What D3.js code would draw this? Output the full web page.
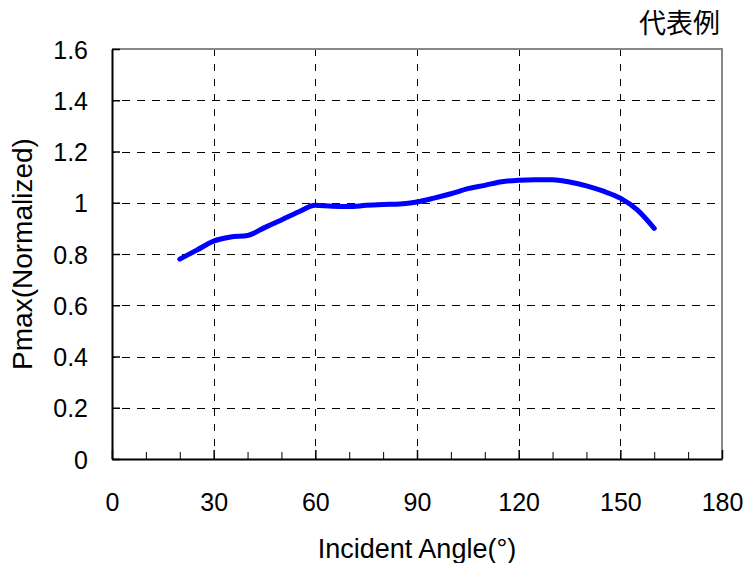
<!DOCTYPE html>
<html>
<head>
<meta charset="utf-8">
<script src="https://cdn.jsdelivr.net/npm/d3@7"></script>
<style>
  html, body { margin: 0; padding: 0; background: #fff; }
  text { font-family: "Liberation Sans", Arial, sans-serif; fill: #000; }
</style>
</head>
<body>
<svg id="chart" width="750" height="563"></svg>
<script>
// ---- data ----
const angles = [20, 25, 30, 35, 40, 45, 50, 55, 60, 65, 70, 75, 80, 85, 90, 95, 100, 105, 110, 115, 120, 125, 130, 135, 140, 145, 150, 155, 160];
const pmax   = [0.78, 0.815, 0.85, 0.866, 0.872, 0.903, 0.933, 0.964, 0.99, 0.986, 0.985, 0.99, 0.993, 0.995, 1.003, 1.018, 1.035, 1.055, 1.068, 1.082, 1.088, 1.09, 1.09, 1.081, 1.066, 1.045, 1.018, 0.972, 0.90];
const xTicks = [0, 30, 60, 90, 120, 150, 180];
const xMinorTicks = [10, 20, 40, 50, 70, 80, 100, 110, 130, 140, 160, 170];
const yTicks = [0, 0.2, 0.4, 0.6, 0.8, 1.0, 1.2, 1.4, 1.6];
const xTitle = "Incident Angle(°)";
const yTitle = "Pmax(Normalized)";
const note = "代表例";

// ---- layout ----
const svg = d3.select("#chart");
const L = 112, R = 722, T = 49, B = 459;
const x = d3.scaleLinear().domain([0, 180]).range([L, R]);
const y = d3.scaleLinear().domain([0, 1.6]).range([B, T]);

// gridlines
const grid = svg.append("g");
grid.selectAll("line.h").data(yTicks.filter(d => d > 0 && d < 1.6)).join("line")
  .attr("x1", L).attr("x2", R)
  .attr("y1", d => Math.round(y(d)) + 0.5).attr("y2", d => Math.round(y(d)) + 0.5)
  .attr("stroke", "#000").attr("stroke-width", 1).attr("stroke-dasharray", "8,7")
  .attr("stroke-dashoffset", -10);
grid.selectAll("line.v").data(xTicks.filter(d => d > 0 && d < 180)).join("line")
  .attr("y1", T).attr("y2", B)
  .attr("x1", d => Math.round(x(d)) + 0.5).attr("x2", d => Math.round(x(d)) + 0.5)
  .attr("stroke", "#000").attr("stroke-width", 1).attr("stroke-dasharray", "7,8");

// top / right border (gray)
svg.append("path")
  .attr("d", `M${L},${T}H${R}V${B}`)
  .attr("fill", "none").attr("stroke", "#888").attr("stroke-width", 2);

// x axis with inward ticks
const xAxisMajor = d3.axisBottom(x).tickValues(xTicks).tickSizeInner(-9).tickSizeOuter(0).tickFormat(d3.format("d")).tickPadding(38);
const gx = svg.append("g").attr("transform", `translate(0,${B})`).call(xAxisMajor);
gx.select(".domain").attr("stroke", "#000").attr("stroke-width", 2);
gx.selectAll(".tick line").attr("stroke", "#000").attr("stroke-width", 1.5);
gx.selectAll(".tick text").attr("font-size", 25).attr("font-family", "Liberation Sans, Arial, sans-serif").attr("dy", 0).attr("y", 52);
const gxm = svg.append("g").attr("transform", `translate(0,${B})`)
  .call(d3.axisBottom(x).tickValues(xMinorTicks).tickSizeInner(-7).tickSizeOuter(0).tickFormat(""));
gxm.select(".domain").remove();
gxm.selectAll(".tick line").attr("stroke", "#000").attr("stroke-width", 1);

// y axis with inward ticks
const gy = svg.append("g").attr("transform", `translate(${L},0)`)
  .call(d3.axisLeft(y).tickValues(yTicks).tickSizeInner(-8).tickSizeOuter(0).tickPadding(24).tickFormat(d => d3.format("")(+d.toFixed(1))));
gy.select(".domain").attr("stroke", "#000").attr("stroke-width", 2);
gy.selectAll(".tick line").attr("stroke", "#000").attr("stroke-width", 1.5);
gy.selectAll(".tick text").attr("font-size", 25).attr("font-family", "Liberation Sans, Arial, sans-serif").attr("dy", "0.36em");

// data line
const line = d3.line().x((d, i) => x(angles[i])).y(d => y(d)).curve(d3.curveMonotoneX);
svg.append("path").datum(pmax)
  .attr("d", line)
  .attr("fill", "none").attr("stroke", "#0000FF").attr("stroke-width", 5)
  .attr("stroke-linecap", "round").attr("stroke-linejoin", "round");

// titles
svg.append("text").attr("x", (L + R) / 2).attr("y", 558)
  .attr("text-anchor", "middle").attr("font-size", 27).text(xTitle);
svg.append("text")
  .attr("transform", `translate(32,${(T + B) / 2}) rotate(-90)`)
  .attr("text-anchor", "middle").attr("font-size", 28).text(yTitle);
svg.append("text").attr("x", 720).attr("y", 33)
  .attr("text-anchor", "end").attr("font-size", 27)
  .style("font-family", "'Noto Sans CJK JP', 'Noto Sans CJK SC', sans-serif").text(note);
</script>
</body>
</html>
